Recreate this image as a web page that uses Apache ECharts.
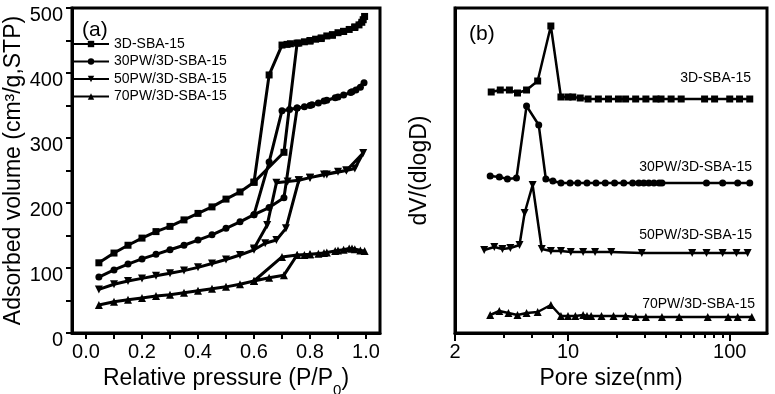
<!DOCTYPE html>
<html><head><meta charset="utf-8">
<script src="https://cdn.jsdelivr.net/npm/echarts@6/dist/echarts.min.js"></script>
<style>html,body{margin:0;padding:0;background:#fff}#c{width:775px;height:394px}</style>
</head><body><div id="c"></div>
<script>
// ---------- Panel (a): N2 isotherms (adsorption then desorption, P/P0 vs cm3/g) ----------
const seriesNames = ['3D-SBA-15', '30PW/3D-SBA-15', '50PW/3D-SBA-15', '70PW/3D-SBA-15'];

const pSBA = [0.046,0.1,0.15,0.2,0.25,0.3,0.35,0.4,0.45,0.5,0.55,0.6,0.707,0.754,0.78,0.80,0.82,0.84,0.86,0.88,0.90,0.92,0.94,0.96,0.975,0.985,0.99,0.995,
              0.96,0.92,0.88,0.84,0.80,0.76,0.73,0.718,0.70,0.654,0.6];
const vSBA = [108,123,135,146,156,164,174,184,194,206,217,232,278,446,448,450,452,454,457,459,462,464,467,470,474,478,482,487,
              471,464,458,453,449,446,445,444,443,397,232];

const p30 = [0.046,0.1,0.15,0.2,0.25,0.3,0.35,0.4,0.45,0.5,0.55,0.6,0.654,0.707,0.754,0.78,0.807,0.83,0.86,0.89,0.92,0.945,0.964,0.98,0.993,
             0.95,0.90,0.85,0.80,0.754,0.727,0.70,0.654,0.6];
const v30 = [86,97,106,114,121,128,135,143,151,161,171,182,193,208,346,348,351,354,358,362,366,370,374,378,385,
             371,363,357,350,346,344,342,263,182];

const p50 = [0.046,0.1,0.15,0.2,0.25,0.3,0.35,0.4,0.45,0.5,0.55,0.6,0.64,0.68,0.714,0.76,0.80,0.85,0.90,0.93,0.96,0.99,
             0.93,0.86,0.80,0.76,0.72,0.68,0.647,0.6];
const v50 = [67,75,80,84,88,92,96,101,107,113,120,128,138,143,161,235,239,244,248,250,253,277,
             250,244,239,235,233,231,166,130];

const p70 = [0.046,0.1,0.15,0.2,0.25,0.3,0.35,0.4,0.45,0.5,0.55,0.6,0.654,0.707,0.754,0.78,0.80,0.83,0.86,0.89,0.92,0.94,0.96,0.98,0.995,
             0.95,0.90,0.85,0.80,0.754,0.70,0.6];
const v70 = [43,48,51,54,57,59,62,65,68,71,75,80,85,89,120,120,121,122,124,126,128,130,129,127,126,
             130,127,123,121,120,117,80];

const pressLabels = [0, 0.2, 0.4, 0.6, 0.8, 1.0];
const pressTicks = [0, 0.1, 0.2, 0.3, 0.4, 0.5, 0.6, 0.7, 0.8, 0.9, 1.0];

// ---------- Panel (b): pore size distribution (nm vs dV/dlogD, offset traces) ----------
const dSBA = [3.35,3.81,4.34,4.87,5.54,6.49,7.83,9.04,10.0,10.7,11.9,13.3,15.4,17.8,20.5,22.7,26.2,30.3,35.0,37.6,43.4,50.1,69.9,80.6,100,115,133];
const gSBA = [241,243,243,240,243,252,307,236,236,236,235,234,234,234,234,234,234,234,234,234,234,234,234,234,234,234,234];

const d30 = [3.30,3.76,4.22,4.80,5.54,6.59,7.29,8.06,9.04,10.3,11.5,13.1,14.9,17.0,19.4,22.1,25.1,27.4,29.4,31.6,34.0,36.6,38.1,71.8,90.4,112,133];
const g30 = [157,156,154,155,227,208,154,152,150,150,150,150,150,150,150,150,150,150,150,150,150,150,150,150,150,150,150];

const d50 = [3.03,3.50,3.93,4.40,5.01,5.39,6.04,6.88,7.83,9.04,10.4,12.4,14.7,18.5,28.6,58.6,71.8,90.4,110,129];
const g50 = [83,86,84,85,88,120,148,84,82,82,81,81,81,81,80,80,80,80,80,80];

const d70 = [3.30,3.76,4.28,4.87,5.54,6.49,7.83,9.04,10.0,11.1,12.4,13.1,13.9,16.1,19.1,22.7,26.2,30.3,38.1,48.7,73.1,97.7,112,137];
const g70 = [18,22,20,18,20,21,28,17,17,17,18,17,17,17,17,17,16,16,16,16,16,16,16,16];

const poreMin = 2, poreMax = 170;
const poreLabels = [2, 10, 100];
const poreMajorTicks = [2, 10, 100];
const poreMinorTicks = [4, 6, 8, 20, 30, 40, 50, 60, 70, 80, 90];

// ---------- build ----------
const FONT = '"Liberation Sans", Arial, sans-serif';
const zip = (xs, ys) => xs.map((x, i) => [x, ys[i]]);
const symbols = [
  {symbol: 'rect', symbolRotate: 0},
  {symbol: 'circle', symbolRotate: 0},
  {symbol: 'triangle', symbolRotate: 180},
  {symbol: 'triangle', symbolRotate: 0}
];
const aData = [zip(pSBA, vSBA), zip(p30, v30), zip(p50, v50), zip(p70, v70)];
const bData = [zip(dSBA, gSBA), zip(d30, g30), zip(d50, g50), zip(d70, g70)];

const axisLineStyle = () => ({show: true, onZero: false, lineStyle: {color: '#000', width: 3}});

const series = [];
aData.forEach((d, i) => {
  series.push({
    name: seriesNames[i], type: 'line', xAxisIndex: 0, yAxisIndex: 0, data: d,
    symbol: symbols[i].symbol, symbolRotate: symbols[i].symbolRotate,
    symbolSize: i >= 2 ? 8 : 7,
    lineStyle: {color: '#000', width: 3}, itemStyle: {color: '#000'},
    emphasis: {disabled: true}, animation: false, z: 3
  });
});
bData.forEach((d, i) => {
  series.push({
    name: 'b_' + seriesNames[i], type: 'line', xAxisIndex: 1, yAxisIndex: 1, data: d,
    symbol: symbols[i].symbol, symbolRotate: symbols[i].symbolRotate,
    symbolSize: i >= 2 ? 8 : 7,
    lineStyle: {color: '#000', width: 2.5}, itemStyle: {color: '#000'},
    emphasis: {disabled: true}, animation: false, z: 3
  });
});

// tick-only axes for panel (b), in log10 space, on overlay grids of the same rectangle
const tickAxis = (gridIndex, values, len) => ({
  gridIndex: gridIndex, type: 'value', min: Math.log10(poreMin), max: Math.log10(poreMax), position: 'bottom',
  axisLine: {show: false, onZero: false},
  axisTick: {show: true, customValues: values.map(v => Math.log10(v)), length: len, lineStyle: {color: '#000', width: 2}},
  axisLabel: {show: false}, splitLine: {show: false}, z: 10
});
const hiddenY = gridIndex => ({gridIndex: gridIndex, type: 'value', min: 0, max: 1, show: false});

const labelStyle = {color: '#000', fontSize: 20, fontFamily: FONT};
const bRect = {left: 455, top: 8, width: 312, height: 325};
const option = {
  backgroundColor: '#fff',
  animation: false,
  grid: [
    {left: 72, top: 8, width: 308, height: 325, show: true, borderColor: '#000', borderWidth: 3, containLabel: false, outerBoundsMode: 'none'},
    Object.assign({show: true, borderColor: '#000', borderWidth: 3, containLabel: false, outerBoundsContain: 'axisLabel'}, bRect),
    Object.assign({show: false, containLabel: false, outerBoundsMode: 'none'}, bRect),
    Object.assign({show: false, containLabel: false, outerBoundsMode: 'none'}, bRect)
  ],
  legend: {
    data: seriesNames, orient: 'vertical', left: 72, top: 37, padding: 0,
    itemWidth: 36, itemHeight: 8, itemGap: 3.5,
    textStyle: {color: '#000', fontSize: 14, fontFamily: FONT},
    selectedMode: false
  },
  xAxis: [
    {
      gridIndex: 0, type: 'value', min: -0.05, max: 1.05,
      axisLine: axisLineStyle(),
      axisTick: {show: true, customValues: pressTicks, length: 6, lineStyle: {color: '#000', width: 2}},
      axisLabel: Object.assign({customValues: pressLabels, margin: 9, formatter: v => v.toFixed(1)}, labelStyle),
      splitLine: {show: false},
      name: '{n|Relative pressure (P/P}{s|0}{n|)}', nameLocation: 'middle', nameGap: 21,
      nameTextStyle: {color: '#000', fontFamily: FONT, rich: {
        n: {fontSize: 23, lineHeight: 40, verticalAlign: 'middle', color: '#000', fontFamily: FONT},
        s: {fontSize: 15, lineHeight: 15, verticalAlign: 'bottom', color: '#000', fontFamily: FONT}
      }}
    },
    {
      gridIndex: 1, type: 'log', min: poreMin, max: poreMax,
      axisLine: axisLineStyle(),
      axisTick: {show: true, customValues: poreMajorTicks, length: 8, lineStyle: {color: '#000', width: 2}},
      axisLabel: Object.assign({customValues: poreLabels, margin: 9}, labelStyle),
      splitLine: {show: false},
      name: 'Pore size(nm)', nameLocation: 'middle', nameGap: 30,
      nameTextStyle: {color: '#000', fontSize: 23, fontFamily: FONT}
    },
    tickAxis(2, poreMinorTicks, 5),
    tickAxis(3, poreMajorTicks, 8)
  ],
  yAxis: [
    {
      gridIndex: 0, type: 'value', min: 0, max: 500, interval: 100,
      axisLine: axisLineStyle(),
      axisTick: {show: true, length: 6, lineStyle: {color: '#000', width: 2}},
      minorTick: {show: true, splitNumber: 2, length: 6, lineStyle: {color: '#000', width: 2}},
      axisLabel: Object.assign({margin: 9, verticalAlign: 'top', lineHeight: 14}, labelStyle),
      splitLine: {show: false}, minorSplitLine: {show: false},
      name: 'Adsorbed volume (cm³/g,STP)', nameLocation: 'middle', nameGap: 47,
      nameTextStyle: {color: '#000', fontSize: 23, fontFamily: FONT}
    },
    {
      gridIndex: 1, type: 'value', min: 0, max: 325,
      axisLine: axisLineStyle(),
      axisTick: {show: false}, axisLabel: {show: false},
      splitLine: {show: false},
      name: 'dV/(dlogD)', nameLocation: 'middle', nameGap: 24,
      nameTextStyle: {color: '#000', fontSize: 23, fontFamily: FONT}
    },
    hiddenY(2),
    hiddenY(3)
  ],
  graphic: [
    {type: 'text', left: 82, top: 20, style: {text: '(a)', fill: '#000', font: '21px ' + FONT}},
    {type: 'text', left: 469, top: 24, style: {text: '(b)', fill: '#000', font: '21px ' + FONT}},
    {type: 'text', x: 751, y: 78, style: {text: seriesNames[0], fill: '#000', font: '14px ' + FONT, align: 'right', verticalAlign: 'middle'}},
    {type: 'text', x: 752, y: 167, style: {text: seriesNames[1], fill: '#000', font: '14px ' + FONT, align: 'right', verticalAlign: 'middle'}},
    {type: 'text', x: 752, y: 235, style: {text: seriesNames[2], fill: '#000', font: '14px ' + FONT, align: 'right', verticalAlign: 'middle'}},
    {type: 'text', x: 755, y: 304, style: {text: seriesNames[3], fill: '#000', font: '14px ' + FONT, align: 'right', verticalAlign: 'middle'}}
  ],
  series: series
};
const chart = echarts.init(document.getElementById('c'), null, {renderer: 'canvas'});
chart.setOption(option);
</script>
</body></html>
